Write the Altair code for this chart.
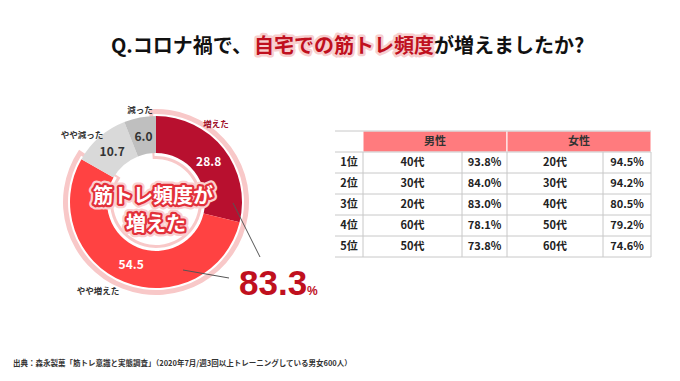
import math
import altair as alt
import pandas as pd

# ---------------- data ----------------
categories = ["増えた", "やや増えた", "やや減った", "減った"]
values = [28.8, 54.5, 10.7, 6.0]
increase_total = "83.3"

ranks = ["1位", "2位", "3位", "4位", "5位"]
male_age = ["40代", "30代", "20代", "60代", "50代"]
male_pct = ["93.8%", "84.0%", "83.0%", "78.1%", "73.8%"]
female_age = ["20代", "30代", "40代", "50代", "60代"]
female_pct = ["94.5%", "94.2%", "80.5%", "79.2%", "74.6%"]
headers = ["男性", "女性"]

title_parts = ["Q.コロナ禍で、", "自宅での筋トレ頻度", "が増えましたか?"]
source = "出典：森永製菓「筋トレ意識と実態調査」（2020年7月/週3回以上トレーニングしている男女600人）"
center_lines = ["筋トレ頻度が", "増えた"]

# ---------------- layout / style ----------------
W, H = 664, 365
CX, CY = 156, 202
R_IN, R_OUT = 49, 86
seg_colors = ["#B8102F", "#FF4242", "#D9D9D9", "#BFBFBF"]
val_colors = ["#FFFFFF", "#FFFFFF", "#333333", "#333333"]
cat_label_pos = [(216, 124), (98, 291), (82, 135), (140, 110)]
cat_label_colors = ["#A0102A", "#333333", "#333333", "#333333"]
FONT = "Noto Sans CJK JP"
RED = "#C0101E"

col_edges = [335, 363, 462, 507, 603, 651]
row_edges = [131, 152, 173, 194, 215, 236, 257]

xs = alt.Scale(domain=[8, 8 + W], range=[0, W])
ys = alt.Scale(domain=[8, 8 + H], range=[0, H])
ts = alt.Scale(domain=[0, 100], range=[0, 2 * math.pi])


def X(f="x"):
    return alt.X(f"{f}:Q", scale=xs, axis=None)


def Y(f="y"):
    return alt.Y(f"{f}:Q", scale=ys, axis=None)


layers = []

# ---------------- donut ----------------
starts, ends = [], []
acc = 0.0
for v in values:
    starts.append(acc)
    acc += v
    ends.append(acc)
seg_df = pd.DataFrame({"cat": categories, "start": starts, "end": ends, "val": values})
inc_end = ends[1]

halo_df = pd.DataFrame({"start": [-1.2], "end": [inc_end + 1.2]})
layers.append(
    alt.Chart(halo_df).mark_arc(innerRadius=R_IN - 6, outerRadius=R_OUT + 7, color="#F8C8C8")
    .encode(theta=alt.Theta("start:Q", scale=ts), theta2="end:Q",
            x=alt.value(CX - 8), y=alt.value(CY - 8))
)
gap_df = pd.DataFrame({"start": [-0.5], "end": [inc_end + 0.5]})
layers.append(
    alt.Chart(gap_df).mark_arc(innerRadius=R_IN - 3, outerRadius=R_OUT + 2, color="#FFFFFF")
    .encode(theta=alt.Theta("start:Q", scale=ts), theta2="end:Q",
            x=alt.value(CX - 8), y=alt.value(CY - 8))
)
layers.append(
    alt.Chart(seg_df).mark_arc(innerRadius=R_IN, outerRadius=R_OUT)
    .encode(theta=alt.Theta("start:Q", scale=ts), theta2="end:Q",
            color=alt.Color("cat:N", scale=alt.Scale(domain=categories, range=seg_colors), legend=None),
            x=alt.value(CX - 8), y=alt.value(CY - 8))
)

# value labels (positioned from the data angles)
lab = []
for c, s, e, v, col in zip(categories, starts, ends, values, val_colors):
    m = (s + e) / 2 / 100 * 2 * math.pi
    lab.append({"x": CX + 67 * math.sin(m), "y": CY - 67 * math.cos(m) + 1,
                "t": f"{v:.1f}", "c": col})
lab_df = pd.DataFrame(lab)
layers.append(
    alt.Chart(lab_df).mark_text(font=FONT, fontSize=12, fontWeight="bold")
    .encode(x=X(), y=Y(), text="t:N", color=alt.Color("c:N", scale=None))
)

# category labels
cl_df = pd.DataFrame({"x": [p[0] for p in cat_label_pos], "y": [p[1] for p in cat_label_pos],
                      "t": categories, "c": cat_label_colors})
layers.append(
    alt.Chart(cl_df).mark_text(font=FONT, fontSize=8.5, fontWeight="bold")
    .encode(x=X(), y=Y(), text="t:N", color=alt.Color("c:N", scale=None))
)

# center text (outlined)
ct_df = pd.DataFrame({"x": [153, 156], "y": [197, 225], "t": center_lines})
layers.append(
    alt.Chart(ct_df).mark_text(font=FONT, fontSize=20, fontWeight="bold", stroke="#FAD0D0",
                               strokeWidth=9, strokeJoin="round", color="#FAD0D0")
    .encode(x=X(), y=Y(), text="t:N")
)
layers.append(
    alt.Chart(ct_df).mark_text(font=FONT, fontSize=20, fontWeight="bold", stroke="#E3303A",
                               strokeWidth=4.5, strokeJoin="round", color="#E3303A")
    .encode(x=X(), y=Y(), text="t:N")
)
layers.append(
    alt.Chart(ct_df).mark_text(font=FONT, fontSize=20, fontWeight="bold", color="#FFFFFF")
    .encode(x=X(), y=Y(), text="t:N")
)

# leader lines
ll_df = pd.DataFrame({"x": [233, 183], "y": [203, 270], "x2": [260, 229], "y2": [257, 278]})
layers.append(
    alt.Chart(ll_df).mark_rule(color="#555555", strokeWidth=1)
    .encode(x=X(), y=Y(), x2="x2:Q", y2="y2:Q")
)

# 83.3 %
big_df = pd.DataFrame({"x": [239], "y": [295], "t": [increase_total]})
layers.append(
    alt.Chart(big_df).mark_text(font="Liberation Sans", fontSize=35, fontWeight="bold",
                                color=RED, align="left", baseline="alphabetic")
    .encode(x=X(), y=Y(), text="t:N")
)
pc_df = pd.DataFrame({"x": [307], "y": [295], "t": ["%"]})
layers.append(
    alt.Chart(pc_df).mark_text(font="Liberation Sans", fontSize=12, fontWeight="bold",
                               color=RED, align="left", baseline="alphabetic")
    .encode(x=X(), y=Y(), text="t:N")
)

# ---------------- title ----------------
tl_df = pd.DataFrame({"x": [252], "y": [47], "t": [title_parts[0]]})
layers.append(
    alt.Chart(tl_df).mark_text(font=FONT, fontSize=20, fontWeight="bold", color="#111111",
                               align="right")
    .encode(x=X(), y=Y(), text="t:N")
)
tm_df = pd.DataFrame({"x": [254], "y": [47], "t": [title_parts[1]]})
layers.append(
    alt.Chart(tm_df).mark_text(font=FONT, fontSize=20, fontWeight="bold", color="#F7CFCF",
                               stroke="#F7CFCF", strokeWidth=5, strokeJoin="round", align="left")
    .encode(x=X(), y=Y(), text="t:N")
)
layers.append(
    alt.Chart(tm_df).mark_text(font=FONT, fontSize=20, fontWeight="bold", color=RED, align="left")
    .encode(x=X(), y=Y(), text="t:N")
)
tr_df = pd.DataFrame({"x": [434], "y": [47], "t": [title_parts[2]]})
layers.append(
    alt.Chart(tr_df).mark_text(font=FONT, fontSize=20, fontWeight="bold", color="#111111",
                               align="left")
    .encode(x=X(), y=Y(), text="t:N")
)

# ---------------- table ----------------
hdr_df = pd.DataFrame({"x": [col_edges[1], col_edges[3]], "x2": [col_edges[3], col_edges[5]],
                       "y": [row_edges[0]] * 2, "y2": [row_edges[1]] * 2, "t": headers})
layers.append(
    alt.Chart(hdr_df).mark_rect(color="#FF7B7E", stroke="#FFFFFF", strokeWidth=1)
    .encode(x=X(), x2="x2:Q", y=Y(), y2="y2:Q")
)
hdr_df["xc"] = (hdr_df["x"] + hdr_df["x2"]) / 2
hdr_df["yc"] = (hdr_df["y"] + hdr_df["y2"]) / 2
layers.append(
    alt.Chart(hdr_df).mark_text(font=FONT, fontSize=11, fontWeight="bold", color="#333333")
    .encode(x=X("xc"), y=Y("yc"), text="t:N")
)

cells = []
cols = [ranks, male_age, male_pct, female_age, female_pct]
for ci, colvals in enumerate(cols):
    for ri, t in enumerate(colvals):
        cells.append({"x": (col_edges[ci] + col_edges[ci + 1]) / 2,
                      "y": (row_edges[ri + 1] + row_edges[ri + 2]) / 2 + 0.5, "t": t})
cell_df = pd.DataFrame(cells)
layers.append(
    alt.Chart(cell_df).mark_text(font=FONT, fontSize=11, fontWeight="bold", color="#222222")
    .encode(x=X(), y=Y(), text="t:N")
)

hl_df = pd.DataFrame({"x": [col_edges[0]] * len(row_edges), "x2": [col_edges[-1]] * len(row_edges),
                      "y": row_edges})
layers.append(
    alt.Chart(hl_df).mark_rule(color="#C8C8C8", strokeWidth=1)
    .encode(x=X(), x2="x2:Q", y=Y())
)
vl_df = pd.DataFrame({"x": col_edges[1:], "y": [row_edges[1]] * 5, "y2": [row_edges[-1]] * 5})
layers.append(
    alt.Chart(vl_df).mark_rule(color="#C8C8C8", strokeWidth=1)
    .encode(x=X(), y=Y(), y2="y2:Q")
)

# ---------------- source ----------------
src_df = pd.DataFrame({"x": [13], "y": [364], "t": [source]})
layers.append(
    alt.Chart(src_df).mark_text(font=FONT, fontSize=7.5, fontWeight="bold", color="#333333",
                                align="left")
    .encode(x=X(), y=Y(), text="t:N")
)

chart = alt.layer(*layers).properties(
    width=W, height=H, padding=0, autosize=alt.AutoSizeParams(type="none"),
    background="#FFFFFF"
).configure_view(stroke=None)

chart.save("out.html", embed_options={"renderer": "svg", "actions": False})
